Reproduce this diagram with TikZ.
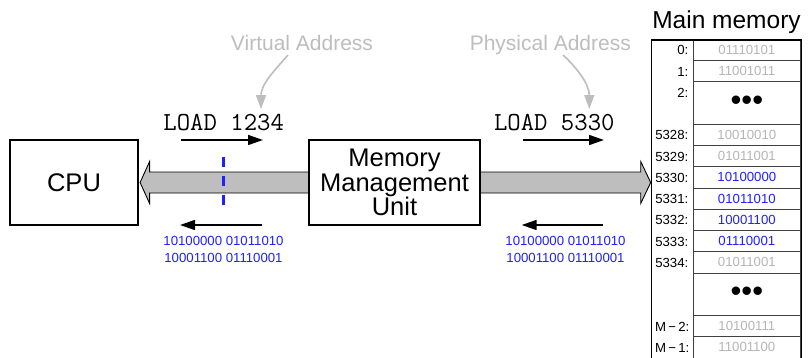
\documentclass[tikz,border=0pt]{standalone}
\usepackage{fontspec}
\setmainfont{Liberation Sans}
\usetikzlibrary{arrows.meta,calc}
\definecolor{lightg}{HTML}{BDBDBD}
\definecolor{cellg}{HTML}{B5B5B5}
\definecolor{bitblue}{HTML}{2020FF}
\definecolor{arrowfill}{HTML}{BEBEBE}
\definecolor{cellline}{HTML}{404040}
\begin{document}
\begin{tikzpicture}[x=1pt,y=-1pt,
  box/.style={draw,line width=1.2pt,fill=white,inner sep=0pt,align=center,
    font=\fontsize{25.5}{24.5}\selectfont},
  bigarrow/.style={draw=black,line width=0.9pt,fill=arrowfill,line join=miter},
  sarrow/.style={line width=1.6pt,-{Triangle[length=15pt,width=10pt]}},
  garrow/.style={draw=lightg,line width=1.6pt,-{Triangle[length=14pt,width=10pt]}},
  loadtxt/.style={anchor=base,inner sep=0pt,font=\ttfamily\fontsize{26}{26}\selectfont},
  graytxt/.style={anchor=base,inner sep=0pt,text=lightg,font=\fontsize{21}{21}\selectfont},
  bits/.style={anchor=base,inner sep=0pt,align=center,text=bitblue,font=\fontsize{13.2}{16.6}\selectfont},
  cell/.style={draw=cellline,line width=0.8pt,minimum width=107.7pt,minimum height=21.24pt,inner sep=0pt,
    font=\fontsize{13.2}{13.2}\selectfont},
  dotcell/.style={cell,minimum height=42.48pt,font=\fontsize{31}{31}\selectfont},
  lab/.style={inner sep=0pt,font=\fontsize{13.2}{13.2}\selectfont},
  bluedash/.style={draw=bitblue,line width=2.6pt,dash pattern=on 10pt off 9pt}
]
\useasboundingbox (0,0) rectangle (808,357);

% boxes
\node[box,minimum width=128pt,minimum height=85pt] (cpu) at (74,182.5) {CPU};

% memory table cells
\foreach \t/\l/\v/\c [count=\i] in {39.3/0:/01110101/cellg, 60.54/1:/11001011/cellg,
   124.26/5328:/10010010/cellg, 145.5/5329:/01011001/cellg, 166.74/5330:/10100000/bitblue,
   187.98/5331:/01011010/bitblue, 209.22/5332:/10001100/bitblue, 230.46/5333:/01110001/bitblue,
   251.7/5334:/01011001/cellg}{
  \node[cell,text=\c] (c\i) at (746.85,\t+10.62) {\v};
  \node[lab,anchor=base east] (l\i) at (688.5,\t+15.6) {\l};
}
\node[cell,text=cellg] (cm2) at (746.85,315.42+10.62) {10100111};
\node[lab,anchor=base west] (lm2) at (655,315.42+15.6) {M\,−\,2:};
\node[cell,text=cellg] (cm1) at (746.85,336.66+10.62) {11001100};
\node[lab,anchor=base west] (lm1) at (655,336.66+15.6) {M\,−\,1:};
\node[dotcell] (d1) at (746.85,81.78+21.24) {•••};
\node[lab,anchor=base east] (l2) at (688.5,81.78+15.6) {2:};
\node[dotcell] (d2) at (746.85,272.94+21.24) {•••};

\node[draw,line width=1.6pt,minimum width=150pt,minimum height=318.6pt,anchor=north west,inner sep=0pt] (mem) at (650.7,39.3) {};
\node[anchor=base,inner sep=0pt,font=\fontsize{24.5}{24.5}\selectfont] (title) at (726.5,28.3) {Main memory};

% big double arrow
\coordinate (L) at ([xshift=1.5pt]cpu.east);
\coordinate (R) at (mem.west |- cpu.east);
\draw[bigarrow] (L) -- ++(9.5,-21) -- ++(0,10.5) -- ($(R)+(-10,-10.5)$) -- ++(0,-10.5) -- (R)
  -- ++(-10,21) -- ++(0,-10.5) -- ($(L)+(9.5,10.5)$) -- ++(0,10.5) -- cycle;

\node[box,minimum width=171pt,minimum height=85pt] (mmu) at (394.5,182.5) {Memory\\Management\\Unit};

% LOAD labels
\node[loadtxt] (load1) at (223.7,130) {LOAD 1234};
\node[loadtxt] (load2) at (554.3,130) {LOAD 5330};

% small arrows
\coordinate (a1s) at (181,140); \coordinate (a1e) at (263,140);
\coordinate (a2s) at (522.7,140); \coordinate (a2e) at (604,140);
\coordinate (b1s) at (261.7,225); \coordinate (b1e) at (180,225);
\coordinate (b2s) at (602.7,225); \coordinate (b2e) at (521.7,225);
\draw[sarrow] (a1s) -- (a1e);
\draw[sarrow] (a2s) -- (a2e);
\draw[sarrow] (b1s) -- (b1e);
\draw[sarrow] (b2s) -- (b2e);

% blue bits
\node[bits] (bits1) at (223.5,262.3) {10100000 01011010\\10001100 01110001};
\node[bits] (bits2) at (565.5,262.3) {10100000 01011010\\10001100 01110001};

% dashed blue line
\coordinate (ds) at (223.3,156.7); \coordinate (de) at (223.3,209);
\draw[bluedash] (ds) -- (de);

% gray labels and curved arrows
\node[graytxt] (vlab) at (302,50) {Virtual Address};
\node[graytxt] (plab) at (550.3,50) {Physical Address};
\coordinate (vs) at (288,55); \coordinate (ve) at (261,109);
\coordinate (ps) at (563,55); \coordinate (pe) at (589.3,109);
\draw[garrow] (vs) .. controls (275,70) and (261,84) .. (ve);
\draw[garrow] (ps) .. controls (577,68) and (589.3,84) .. (pe);
\end{tikzpicture}
\end{document}
